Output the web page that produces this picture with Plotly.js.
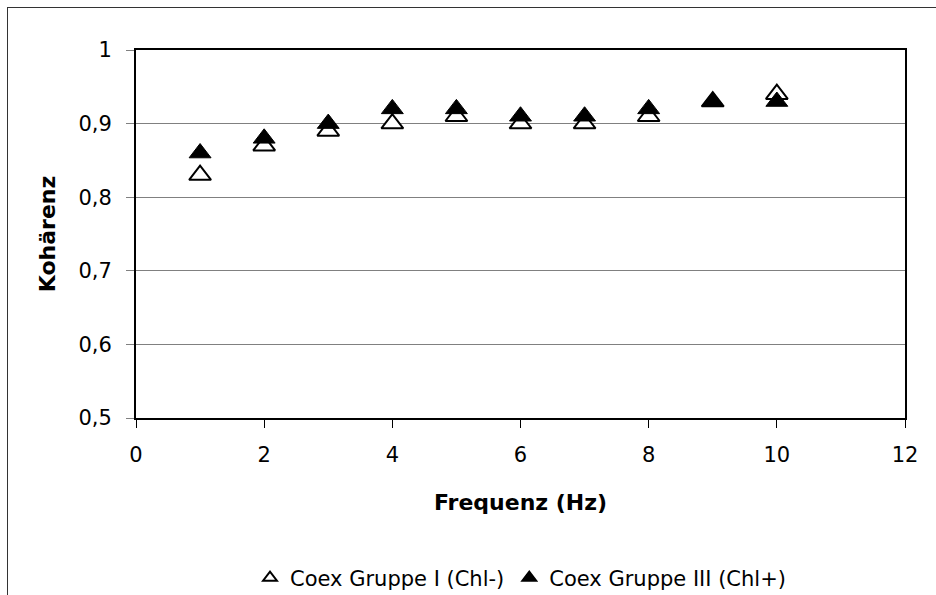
<!DOCTYPE html>
<html>
<head>
<meta charset="utf-8">
<script src="https://cdn.plot.ly/plotly-3.0.1.min.js"></script>
<style>
html,body{margin:0;padding:0;background:#fff;}
#wrap{position:relative;width:936px;height:595px;overflow:hidden;}
#frame{position:absolute;left:7px;top:7px;width:1000px;height:1000px;border-left:1.5px solid #333;border-top:1.5px solid #333;pointer-events:none;}
#chart{position:absolute;left:0;top:0;width:936px;height:595px;}
</style>
</head>
<body>
<div id="wrap">
<div id="chart"></div>
<div id="frame"></div>
</div>
<script>
const frequenz = [1, 2, 3, 4, 5, 6, 7, 8, 9, 10];
const gruppeI = [0.83, 0.87, 0.89, 0.90, 0.91, 0.90, 0.90, 0.91, 0.93, 0.94];
const gruppeIII = [0.86, 0.88, 0.90, 0.92, 0.92, 0.91, 0.91, 0.92, 0.93, 0.93];
const nameI = 'Coex Gruppe I (Chl-)';
const nameIII = 'Coex Gruppe III (Chl+)';
const yTicks = [0.5, 0.6, 0.7, 0.8, 0.9, 1];
const yTickText = ['0,5', '0,6', '0,7', '0,8', '0,9', '1'];
const xTicks = [0, 2, 4, 6, 8, 10, 12];

const font = 'DejaVu Sans, Liberation Sans, Arial, sans-serif';

const traces = [
  {
    x: frequenz, y: gruppeI, name: nameI, type: 'scatter', mode: 'markers',
    marker: {symbol: 'triangle-up', size: 19, color: '#ffffff', line: {color: '#000000', width: 2}}
  },
  {
    x: frequenz, y: gruppeIII, name: nameIII, type: 'scatter', mode: 'markers',
    marker: {symbol: 'triangle-up', size: 19, color: '#000000', line: {color: '#000000', width: 1}}
  }
];

const layout = {
  width: 936, height: 595,
  margin: {l: 136, r: 31, t: 50, b: 177, autoexpand: false},
  paper_bgcolor: '#ffffff', plot_bgcolor: '#ffffff',
  font: {family: font, size: 21, color: '#000000'},
  showlegend: true,
  legend: {orientation: 'h', x: 0.5, xanchor: 'center', y: -0.435, yanchor: 'middle',
           font: {family: font, size: 21, color: '#000000'}, itemsizing: 'constant',
           traceorder: 'normal', itemwidth: 30},
  xaxis: {
    range: [0, 12], tickvals: xTicks, ticktext: xTicks.map(String),
    showgrid: false, zeroline: false,
    showline: true, linecolor: '#000000', linewidth: 2, mirror: true,
    ticks: 'outside', ticklen: 8, tickcolor: '#000000', tickwidth: 1,
    ticklabelstandoff: 9,
    title: {text: '<b>Frequenz (Hz)</b>', font: {family: font, size: 22}, standoff: 28}
  },
  yaxis: {
    range: [0.5, 1], tickvals: yTicks, ticktext: yTickText,
    showgrid: true, gridcolor: '#808080', gridwidth: 1, zeroline: false,
    showline: true, linecolor: '#000000', linewidth: 2, mirror: true,
    ticks: 'outside', ticklen: 8, tickcolor: '#808080', tickwidth: 1,
    ticklabelstandoff: 10,
    title: {text: '<b>Kohärenz</b>', font: {family: font, size: 22}, standoff: 17}
  }
};

Plotly.newPlot('chart', traces, layout, {displayModeBar: false, staticPlot: true});
</script>
</body>
</html>
